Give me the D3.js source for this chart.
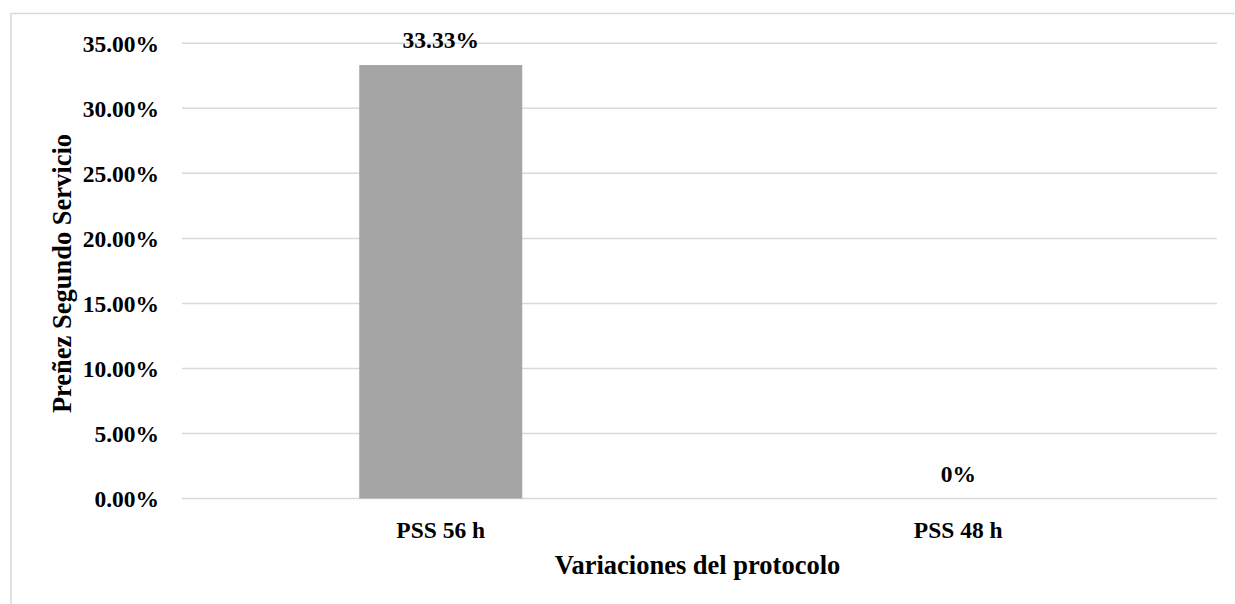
<!DOCTYPE html>
<html>
<head>
<meta charset="utf-8">
<script src="https://cdn.jsdelivr.net/npm/d3@7"></script>
<style>
  html, body { margin: 0; padding: 0; background: #fff; }
  svg { display: block; }
  svg text { font-family: "Liberation Serif", "Times New Roman", serif; font-weight: bold; fill: #000; }
</style>
</head>
<body>
<svg id="chart" width="1235" height="604"></svg>
<script>
// Pregnancy rate at second service by protocol variation
const categories = ["PSS 56 h", "PSS 48 h"];
const values = [0.3333, 0];
const valueLabels = ["33.33%", "0%"];
const yTicks = [0, 0.05, 0.10, 0.15, 0.20, 0.25, 0.30, 0.35];

const svg = d3.select("#chart");
const W = 1235, H = 604;
const plot = { left: 182, right: 1217, top: 43.3, bottom: 498.5 };

// chart frame
svg.append("rect")
  .attr("x", 11).attr("y", 13.5)
  .attr("width", W).attr("height", H)
  .attr("fill", "none").attr("stroke", "#d9d9d9").attr("stroke-width", 1.5);

const x = d3.scaleBand()
  .domain(categories)
  .range([plot.left, plot.right])
  .paddingInner(0.685).paddingOuter(0.3425);

const y = d3.scaleLinear()
  .domain([0, 0.35])
  .range([plot.bottom, plot.top]);

// gridlines
svg.append("g")
  .selectAll("line")
  .data(yTicks)
  .join("line")
  .attr("x1", plot.left).attr("x2", plot.right)
  .attr("y1", d => y(d)).attr("y2", d => y(d))
  .attr("stroke", "#d9d9d9").attr("stroke-width", 1.5);

// y axis labels
const yAxis = d3.axisLeft(y).tickValues(yTicks).tickFormat(d3.format(".2%")).tickSize(0).tickPadding(23);
const gy = svg.append("g")
  .attr("transform", `translate(${plot.left},0)`)
  .call(yAxis)
  .attr("font-family", null).attr("font-size", null);
gy.select(".domain").remove();
gy.selectAll("text").attr("font-size", 23.5).attr("fill", null).attr("dy", "0.34em");

// bars
svg.append("g")
  .selectAll("rect")
  .data(values)
  .join("rect")
  .attr("x", (d, i) => x(categories[i]))
  .attr("width", x.bandwidth())
  .attr("y", d => y(d))
  .attr("height", d => y(0) - y(d))
  .attr("fill", "#a5a5a5");

// value labels above the bars
svg.append("g")
  .selectAll("text")
  .data(values)
  .join("text")
  .attr("x", (d, i) => x(categories[i]) + x.bandwidth() / 2)
  .attr("y", d => y(d) - 17)
  .attr("text-anchor", "middle")
  .attr("font-size", 23.5)
  .text((d, i) => valueLabels[i]);

// category labels
const xAxis = d3.axisBottom(x).tickSize(0).tickPadding(0);
const gx = svg.append("g")
  .attr("transform", `translate(0,${y(0)})`)
  .call(xAxis)
  .attr("font-family", null).attr("font-size", null);
gx.select(".domain").remove();
gx.selectAll("text").attr("font-size", 23.5).attr("fill", null).attr("y", 39.5).attr("dy", null);

// axis titles
svg.append("text")
  .attr("x", 697.5)
  .attr("y", 574)
  .attr("text-anchor", "middle")
  .attr("font-size", 26.5)
  .text("Variaciones del protocolo");

svg.append("text")
  .attr("transform", `translate(70.5,273.5) rotate(-90)`)
  .attr("text-anchor", "middle")
  .attr("font-size", 26.5)
  .text("Preñez Segundo Servicio");
</script>
</body>
</html>
